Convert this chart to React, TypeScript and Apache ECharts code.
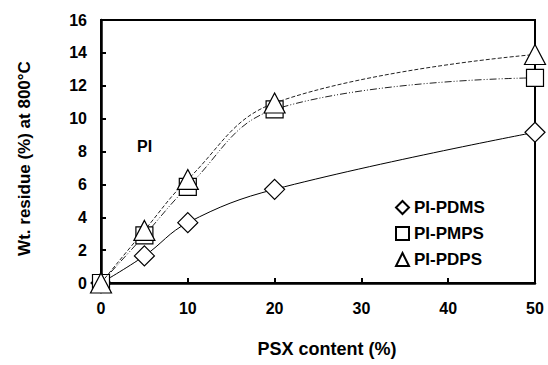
import React, { useEffect, useRef } from "react";
import * as echarts from "echarts";

const xValues = [0, 5, 10, 20, 50];
const pdms = [0, 1.65, 3.67, 5.7, 9.17];
const pmps = [0, 2.9, 5.85, 10.56, 12.48];
const pdps = [0, 3.2, 6.3, 10.95, 13.9];
const seriesNames = ["PI-PDMS", "PI-PMPS", "PI-PDPS"];
const xTicks = [0, 10, 20, 30, 40, 50];
const yTicks = [0, 2, 4, 6, 8, 10, 12, 14, 16];

const FONT = "'Liberation Sans', Arial, sans-serif";

export default function App() {
  const ref = useRef<HTMLDivElement>(null);
  useEffect(() => {
    if (!ref.current) return;
    document.body.style.margin = "0";
    const chart = echarts.init(ref.current, null, { renderer: "svg" });
    const pair = (ys: number[]) => xValues.map((x, i) => [x, ys[i]]);
    const markerStyle = { color: "#fff", borderColor: "#000", borderWidth: 1.2 };
    chart.setOption({
      animation: false,
      backgroundColor: "#fff",
      grid: {
        left: 101,
        right: 13,
        top: 20,
        bottom: 82,
        show: true,
        borderColor: "#000",
        borderWidth: 2,
        backgroundColor: "transparent",
      },
      xAxis: {
        type: "value",
        min: xTicks[0],
        max: xTicks[xTicks.length - 1],
        interval: 10,
        name: "PSX content (%)",
        nameLocation: "middle",
        nameGap: 57,
        nameTextStyle: { fontFamily: FONT, fontWeight: "bold", fontSize: 18, color: "#000", padding: [0, 0, 0, 18] },
        axisLine: { show: true, lineStyle: { color: "#000", width: 2.5 } },
        axisTick: { show: true, inside: true, length: 5, lineStyle: { color: "#000", width: 2 } },
        axisLabel: { margin: 17, fontFamily: FONT, fontWeight: "bold", fontSize: 16, color: "#000" },
        splitLine: { show: false },
      },
      yAxis: {
        type: "value",
        min: yTicks[0],
        max: yTicks[yTicks.length - 1],
        interval: 2,
        name: "Wt. residue (%) at 800°C",
        nameLocation: "middle",
        nameGap: 68,
        nameTextStyle: { fontFamily: FONT, fontWeight: "bold", fontSize: 17, color: "#000", padding: [0, 14, 0, 0] },
        axisLine: { show: true, lineStyle: { color: "#000", width: 2.5 } },
        axisTick: { show: true, inside: true, length: 5, lineStyle: { color: "#000", width: 2 } },
        axisLabel: { margin: 14, fontFamily: FONT, fontWeight: "bold", fontSize: 16, color: "#000" },
        splitLine: { show: false },
      },
      legend: {
        orient: "vertical",
        left: 390,
        top: 194,
        itemWidth: 13,
        itemHeight: 13,
        itemGap: 9,
        textStyle: { fontFamily: FONT, fontWeight: "bold", fontSize: 17, color: "#000" },
        data: [
          { name: seriesNames[0], icon: "diamond" },
          { name: seriesNames[1], icon: "rect" },
          { name: seriesNames[2], icon: "triangle" },
        ],
      },
      graphic: [
        {
          type: "text",
          left: 137,
          top: 138,
          style: { text: "PI", fontFamily: FONT, fontWeight: "bold", fontSize: 16, fill: "#000" },
        },
      ],
      series: [
        {
          name: seriesNames[0],
          type: "line",
          data: pair(pdms),
          smooth: 0.4,
          symbol: "diamond",
          symbolSize: [20, 20],
          itemStyle: markerStyle,
          lineStyle: { color: "#000", width: 1 },
          z: 3,
        },
        {
          name: seriesNames[1],
          type: "line",
          data: pair(pmps),
          smooth: 0.4,
          symbol: "rect",
          symbolSize: [17, 17],
          itemStyle: markerStyle,
          lineStyle: { color: "#222", width: 1, type: [7, 2, 1, 2, 1, 2] },
          z: 4,
        },
        {
          name: seriesNames[2],
          type: "line",
          data: pair(pdps),
          smooth: 0.4,
          symbol: "triangle",
          symbolSize: [21, 20],
          itemStyle: markerStyle,
          lineStyle: { color: "#222", width: 1, type: [4, 2] },
          z: 5,
        },
      ],
    });
    return () => chart.dispose();
  }, []);
  return <div ref={ref} style={{ width: 548, height: 365 }} />;
}
